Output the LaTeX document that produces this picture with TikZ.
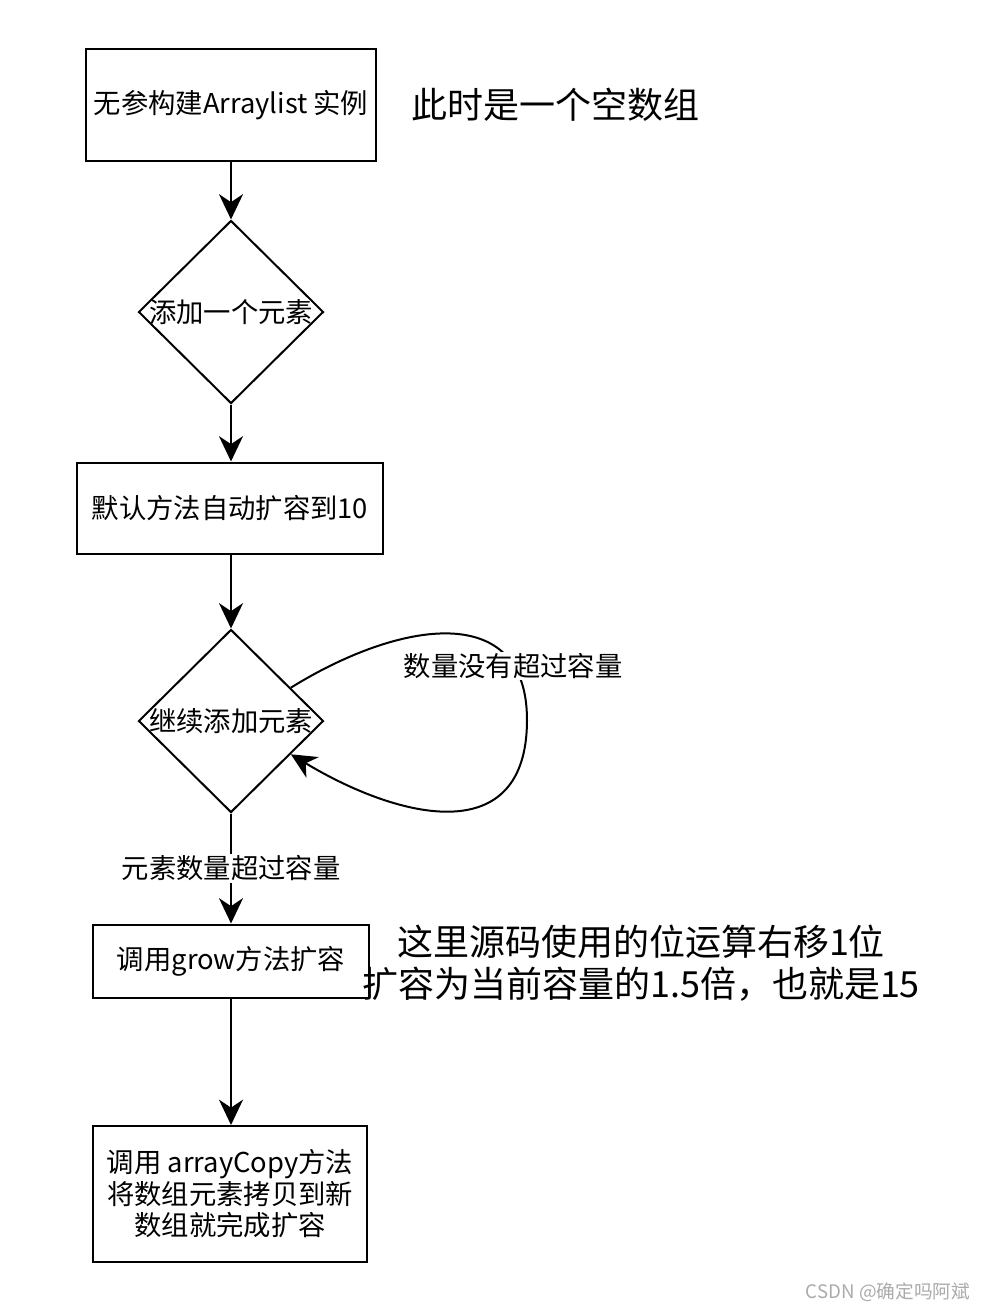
\documentclass[tikz,border=0pt]{standalone}
\usepackage{fontspec}
\setmainfont{Noto Sans CJK SC}
\usetikzlibrary{shapes.geometric,arrows.meta,calc}
\begin{document}
\begin{tikzpicture}[x=0.75pt,y=-0.75pt,
  base/.style={font=\fontsize{20.5}{23.6}\selectfont},
  box/.style={base,draw,line width=1.5pt,fill=white,align=center,inner sep=0pt},
  dia/.style={base,draw,line width=1.5pt,shape=diamond,inner sep=0pt,minimum width=138.75pt,minimum height=137.25pt},
  big/.style={font=\fontsize{27}{32}\selectfont,align=center},
  conn/.style={line width=1.5pt,-{Stealth[length=19pt,width=18pt,inset=6pt]}},
  lbl/.style={base,fill=white,inner sep=1pt}]
\useasboundingbox (0,0) rectangle (989,1311);
\fill[white] (0,0) rectangle (989,1311);

\node[box,minimum width=217.5pt,minimum height=84pt] (b1) at (231,105) {无参构建Arraylist 实例};
\node[big] (t1) at (555,105) {此时是一个空数组};
\node[dia] (d1) at (231,312) {\makebox[0pt]{添加一个元素}};
\node[box,minimum width=229.5pt,minimum height=68.25pt] (b2) at (230,508) {默认方法自动扩容到10};
\node[dia] (d2) at (231,721) {\makebox[0pt]{继续添加元素}};
\node[box,minimum width=207pt,minimum height=54.75pt] (b3) at (231,961) {调用grow方法扩容};
\node[big] (t2) at (641,963) {这里源码使用的位运算右移1位\\扩容为当前容量的1.5倍，也就是15};
\node[box,minimum width=205.5pt,minimum height=102pt] (b4) at (230,1194) {调用 arrayCopy方法\\将数组元素拷贝到新\\数组就完成扩容};

\draw[conn] (b1.south) -- (d1.north);
\draw[conn] (d1.south) -- (d1.south |- b2.north);
\draw[conn] (d2.north |- b2.south) -- (d2.north);
\draw[conn] (d2.south) -- node[lbl] (l1) {元素数量超过容量} (b3.north);
\draw[conn] (b3.south) -- (b3.south |- b4.north);

\coordinate (ls) at ($(d2.north)!0.64!(d2.east)$);
\coordinate (le) at ($(d2.east)!0.36!(d2.south)$);
\draw[conn] (ls) .. controls (400,620) and (527,600) .. (527,720)
  .. controls (527,850) and (400,820) .. (le);
\node[lbl] (l2) at (513,666) {数量没有超过容量};

\node[font=\fontsize{14}{16}\selectfont,text=black!33] (wm) at (888,1292) {CSDN @确定吗阿斌};
\end{tikzpicture}
\end{document}
